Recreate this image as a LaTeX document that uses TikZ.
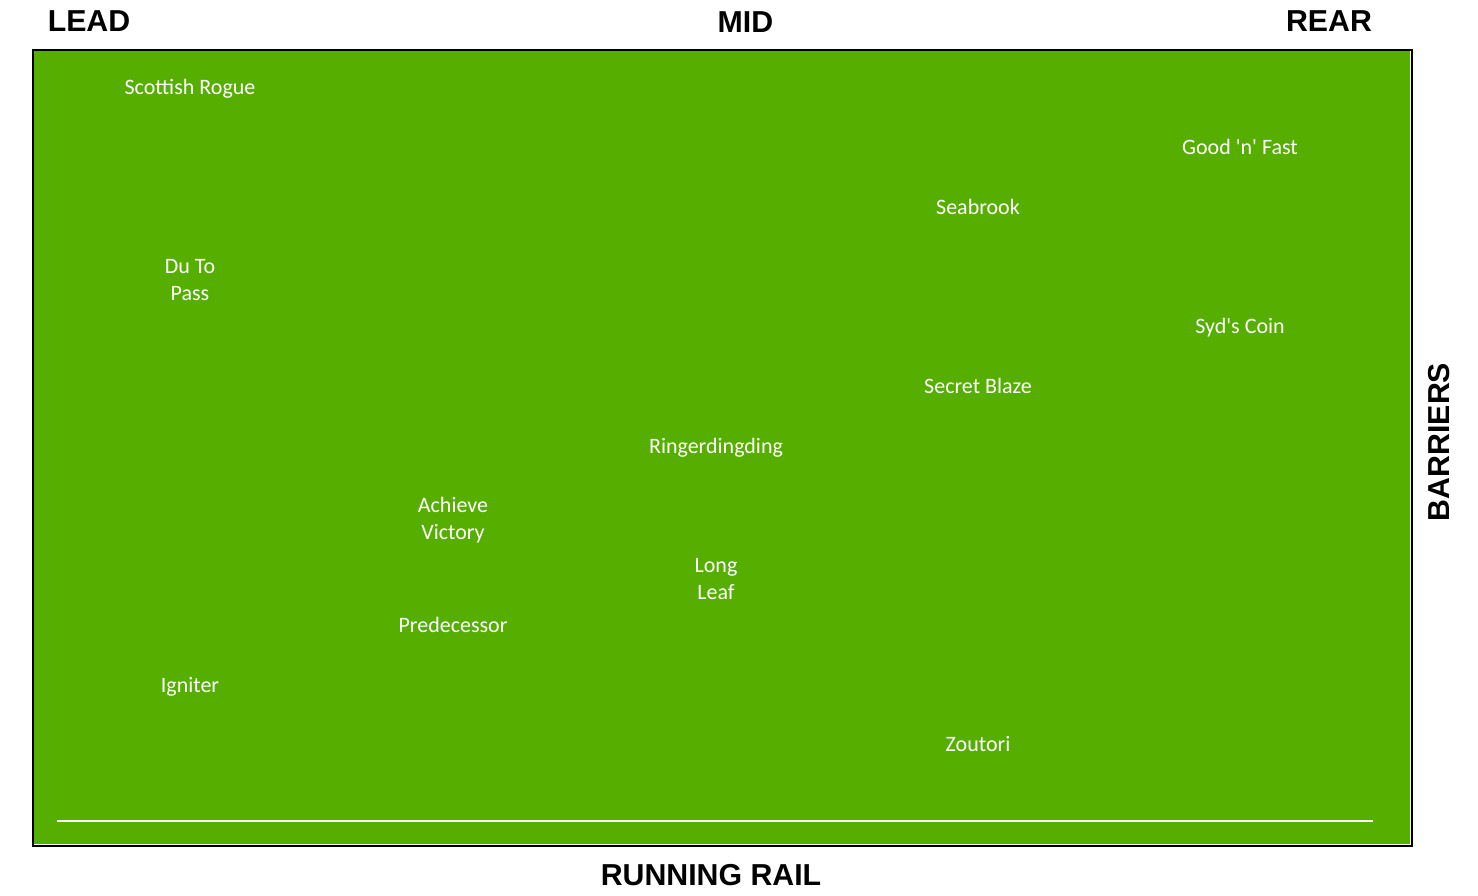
\documentclass[tikz,border=0pt]{standalone}
\usepackage{fontspec}
\setmainfont{Carlito}[Ligatures=TeXOff]
\newfontfamily\headfont{Liberation Sans}
\definecolor{turf}{RGB}{86,174,0}

\begin{document}
\begin{tikzpicture}[x=1pt,y=-1pt,
        horse/.style={text=white,font=\fontsize{22}{27}\selectfont,align=center,anchor=base,inner sep=0},
        heading/.style={font=\headfont\bfseries\fontsize{30.3}{36}\selectfont,anchor=base,inner sep=0},
        ]
\useasboundingbox (0,0) rectangle (1478,896);

\fill[turf] (34,51) rectangle (1410,843.5);
\draw[draw=black,line width=2pt] (33,50) rectangle (1412,846);

\coordinate (railstart) at (57,821);
\coordinate (railend) at (1373,821);
\path[draw=white,line width=2.5pt] (railstart) edge (railend);

\node[heading] (lead) at (89,32) {LEAD};
\node[heading] (mid) at (745.5,33) {MID};
\node[heading] (rear) at (1329,32) {REAR};
\node[heading] (rail) at (711,885) {RUNNING RAIL};
\node[heading,rotate=90,anchor=center,text height=21.5pt,text depth=0pt] (barriers) at (1438.5,442) {BARRIERS};

\node[horse] (scottish) at (190,94.5) {Scottish Rogue};
\node[horse] (goodnfast) at (1240,154.5) {Good 'n' Fast};
\node[horse] (seabrook) at (978,214.5) {Seabrook};
\node[horse] (dutopass) at (190,300.5) {Du To\\Pass};
\node[horse] (sydscoin) at (1240,333.5) {Syd's Coin};
\node[horse] (secretblaze) at (978,393.5) {Secret Blaze};
\node[horse] (ringer) at (716,453.5) {Ringerdingding};
\node[horse] (achieve) at (453,539.5) {Achieve\\Victory};
\node[horse] (longleaf) at (716,599.5) {Long\\Leaf};
\node[horse] (predecessor) at (453,632.5) {Predecessor};
\node[horse] (igniter) at (190,692.5) {Igniter};
\node[horse] (zoutori) at (978,751.5) {Zoutori};

\end{tikzpicture}
\end{document}
